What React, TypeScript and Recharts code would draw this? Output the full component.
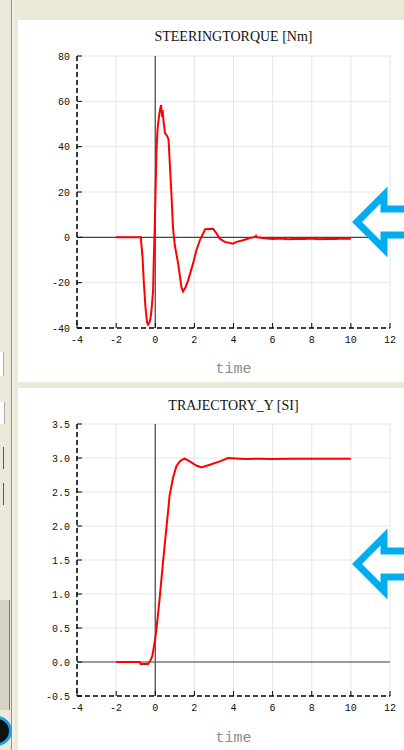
import React from 'react';
import { LineChart, Line, XAxis, YAxis, CartesianGrid, ReferenceLine } from 'recharts';

const xTicks = [-4, -2, 0, 2, 4, 6, 8, 10, 12];

const torqueTicks = [-40, -20, 0, 20, 40, 60, 80];
const torqueTime = [-2, -1.2, -0.74, -0.65, -0.59, -0.5, -0.42, -0.37, -0.3, -0.25, -0.19, -0.11, -0.08, -0.03, 0.02, 0.06, 0.12, 0.2, 0.26, 0.3, 0.33, 0.36, 0.38, 0.42, 0.5, 0.62, 0.68, 0.74, 0.83, 0.91, 1.0, 1.17, 1.34, 1.42, 1.55, 1.68, 1.93, 2.1, 2.28, 2.44, 2.55, 2.95, 3.15, 3.3, 3.55, 3.98, 4.15, 4.49, 4.83, 5.1, 5.15, 5.2, 5.6, 6.0, 6.4, 6.8, 7.2, 7.6, 8.0, 8.4, 8.8, 9.2, 9.6, 10];
const torqueValues = [0, 0, 0, -8.7, -19, -30.8, -37.5, -38.5, -37.5, -36, -32, -23.5, -11.6, 3, 22, 37.7, 48, 54, 57, 58.4, 55, 53, 56, 51.5, 46, 44.5, 43, 33.3, 18.6, 3.8, -3.5, -11.6, -22, -23.9, -22, -19, -11.6, -5.8, -1.3, 1.6, 3.6, 3.8, 1.5, -0.6, -2, -2.8, -2, -1.3, -0.3, 0.2, 0.7, 0, -0.4, -0.7, -0.5, -0.8, -0.6, -0.7, -0.5, -0.8, -0.6, -0.7, -0.5, -0.6];

const trajTicks = [-0.5, 0, 0.5, 1, 1.5, 2, 2.5, 3, 3.5];
const trajTime = [-2, -0.8, -0.75, -0.37, -0.25, -0.15, -0.03, 0.06, 0.23, 0.4, 0.57, 0.74, 0.85, 0.91, 1.08, 1.25, 1.4, 1.51, 1.76, 2.1, 2.36, 2.79, 3.3, 3.72, 4.32, 4.7, 5.2, 6, 7, 8, 9, 10];
const trajValues = [0, 0, -0.03, -0.03, 0.02, 0.09, 0.29, 0.48, 0.95, 1.48, 1.97, 2.46, 2.62, 2.71, 2.88, 2.95, 2.98, 2.99, 2.95, 2.89, 2.86, 2.9, 2.95, 3.0, 2.99, 2.985, 2.99, 2.985, 2.99, 2.99, 2.99, 2.99];

const torqueData = torqueTime.map((t, i) => ({ t, v: torqueValues[i] }));
const trajData = trajTime.map((t, i) => ({ t, v: trajValues[i] }));

const tickStyle = { fontFamily: 'Liberation Mono', fontSize: 10, fill: '#111' };
const axisLineStyle = { stroke: '#000', strokeDasharray: '5 3', strokeWidth: 1.5 };

function Arrow({ cy }: { cy: number }) {
  const pts = [
    [357, cy], [384, cy - 27], [384, cy - 13], [410, cy - 13], [410, cy + 13], [384, cy + 13], [384, cy + 27],
  ].map((p) => p.join(',')).join(' ');
  return (
    <svg style={{ position: 'absolute', left: 0, top: 0 }} width={404} height={750}>
      <polygon points={pts} fill="#fff" stroke="#00AEEF" strokeWidth={7} strokeLinejoin="miter" />
    </svg>
  );
}

function Plot({ data, yTicks, yDomain, fmt, top }: { data: { t: number; v: number }[]; yTicks: number[]; yDomain: [number, number]; fmt: (v: number) => string; top: number }) {
  return (
    <div style={{ position: 'absolute', left: 0, top }}>
      <LineChart width={404} height={338} data={data} margin={{ top: 36, right: 14, left: 17, bottom: 0 }}>
        <CartesianGrid stroke="#e6e6e6" strokeWidth={1} />
        <ReferenceLine x={0} stroke="#444" strokeWidth={1.2} />
        <ReferenceLine y={0} stroke="#444" strokeWidth={1.2} />
        <XAxis
          type="number"
          dataKey="t"
          domain={[-4, 12]}
          ticks={xTicks}
          interval={0}
          allowDataOverflow
          height={30}
          axisLine={axisLineStyle}
          tickLine={{ stroke: '#000' }}
          tickSize={-5}
          tickMargin={13}
          tick={tickStyle}
        />
        <YAxis
          type="number"
          domain={yDomain}
          ticks={yTicks}
          interval={0}
          allowDataOverflow
          width={60}
          axisLine={axisLineStyle}
          tickLine={{ stroke: '#000' }}
          tickSize={-5}
          tickMargin={12}
          tick={tickStyle}
          tickFormatter={fmt}
        />
        <Line type="linear" dataKey="v" stroke="#ff0000" strokeWidth={2} dot={false} isAnimationActive={false} />
      </LineChart>
    </div>
  );
}

export default function App() {
  return (
    <div style={{ position: 'fixed', left: 0, top: 0, width: 404, height: 750, background: '#ECE9D8', overflow: 'hidden' }}>
      <div style={{ position: 'absolute', left: 11, top: 0, width: 1, height: 750, background: '#8f8f8f' }} />
      <div style={{ position: 'absolute', left: 12, top: 0, width: 2, height: 750, background: '#f4f2e8' }} />
      <div style={{ position: 'absolute', left: 0, top: 352, width: 3, height: 24, background: '#fff', borderRight: '1px solid #aaa' }} />
      <div style={{ position: 'absolute', left: 0, top: 402, width: 4, height: 22, background: '#fff', borderRight: '1px solid #aaa' }} />
      <div style={{ position: 'absolute', left: 0, top: 447, width: 3, height: 22, background: '#ECE9D8', borderRight: '1px solid #555' }} />
      <div style={{ position: 'absolute', left: 0, top: 483, width: 3, height: 22, background: '#ECE9D8', borderRight: '1px solid #555' }} />
      <div style={{ position: 'absolute', left: 0, top: 600, width: 9, height: 110, background: '#d8d4c4', borderRight: '1px solid #777' }} />
      <div style={{ position: 'absolute', left: -18, top: 716, width: 24, height: 24, borderRadius: '50%', background: '#111', border: '3px solid #1aa0e0' }} />

      <div style={{ position: 'absolute', left: 18, top: 20, width: 386, height: 362, background: '#fff' }} />
      <div style={{ position: 'absolute', left: 18, top: 388, width: 386, height: 362, background: '#fff' }} />

      <div style={{ position: 'absolute', left: 77, width: 313, top: 29, textAlign: 'center', fontFamily: 'Liberation Serif', fontSize: 14, color: '#111', lineHeight: '16px' }}>STEERINGTORQUE [Nm]</div>
      <div style={{ position: 'absolute', left: 77, width: 313, top: 398, textAlign: 'center', fontFamily: 'Liberation Serif', fontSize: 14, color: '#111', lineHeight: '16px' }}>TRAJECTORY_Y [SI]</div>

      <Plot data={torqueData} yTicks={torqueTicks} yDomain={[-40, 80]} fmt={(v) => String(v)} top={20} />
      <Plot data={trajData} yTicks={trajTicks} yDomain={[-0.5, 3.5]} fmt={(v) => v.toFixed(1)} top={388} />

      <div style={{ position: 'absolute', left: 77, width: 313, top: 361, textAlign: 'center', fontFamily: 'Liberation Mono', fontSize: 15, color: '#8c8c8c', lineHeight: '18px' }}>time</div>
      <div style={{ position: 'absolute', left: 77, width: 313, top: 730, textAlign: 'center', fontFamily: 'Liberation Mono', fontSize: 15, color: '#8c8c8c', lineHeight: '18px' }}>time</div>

      <Arrow cy={222} />
      <Arrow cy={564} />
    </div>
  );
}
